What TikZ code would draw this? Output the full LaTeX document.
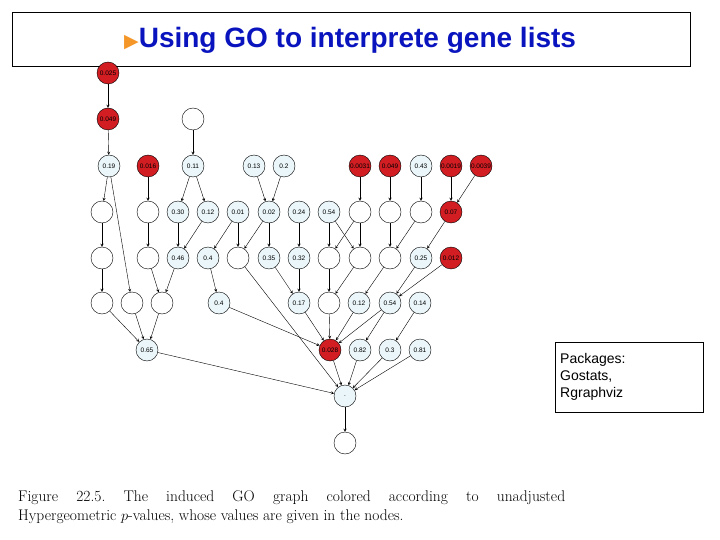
\documentclass[tikz,border=0pt]{standalone}
\usepackage{fontspec}
\setsansfont{Liberation Sans}
\newfontfamily\dejavu{DejaVu Sans}
\begin{document}
\begin{tikzpicture}[x=1pt,y=-1pt,
 gn/.style={circle,draw,thin,minimum size=22pt,inner sep=0pt,font=\sffamily\fontsize{6.5}{6.5}\selectfont,fill=white},
 rn/.style={gn,fill=gored},
 ln/.style={gn,fill=golight},
 ar/.style={->,>=stealth,thin},
 box/.style={draw,thin}]
\definecolor{gored}{RGB}{210,30,35}
\definecolor{golight}{RGB}{235,246,250}
\definecolor{tblue}{RGB}{10,20,190}
\definecolor{torange}{RGB}{245,150,40}
\useasboundingbox (0,0) rectangle (720,540);
\node[box,minimum width=678pt,minimum height=54pt,anchor=north west] (tb) at (12,12) {};
\node[anchor=west,inner sep=0pt,font=\sffamily\bfseries\fontsize{28}{30}\selectfont,text=tblue] (tt) at (124,40) {{\dejavu\color{torange}\fontsize{19}{19}\selectfont ▶}Using GO to interprete gene lists};
\node[box,anchor=north west,minimum width=148pt,minimum height=70pt,text width=138pt,align=left,font=\sffamily\fontsize{14}{17}\selectfont] (pk) at (555,342) {Packages:\\Gostats,\\Rgraphviz};
\node[anchor=north west,text width=547pt,align=justify,inner sep=0pt,font=\fontsize{15.5}{19}\selectfont] (cap) at (18,490) {\frenchspacing Figure 22.5. The induced GO graph colored according to unadjusted\linebreak Hypergeometric $p$-values, whose values are given in the nodes.};
% row0-1
\node[rn] (a0) at (108,73) {0.025};
\node[rn] (a1) at (108,119) {0.049};
\node[gn] (b1) at (193,119) {};
% row2
\node[ln] (c1) at (109,166) {0.19};
\node[rn] (c2) at (148,166) {0.016};
\node[ln] (c3) at (193,166) {0.11};
\node[ln] (c4) at (254,166) {0.13};
\node[ln] (c5) at (284,166) {0.2};
\node[rn] (c6) at (360,166) {0.0031};
\node[rn] (c7) at (390,166) {0.049};
\node[ln] (c8) at (421,166) {0.43};
\node[rn] (c9) at (451,166) {0.0019};
\node[rn] (c10) at (481,166) {0.0039};
% row3
\node[gn] (d1) at (102,212) {};
\node[gn] (d2) at (148,212) {};
\node[ln] (d3) at (178,212) {0.30};
\node[ln] (d4) at (208,212) {0.12};
\node[ln] (d5) at (238,212) {0.01};
\node[ln] (d6) at (269,212) {0.02};
\node[ln] (d7) at (299,212) {0.24};
\node[ln] (d8) at (329,212) {0.54};
\node[gn] (d9) at (360,212) {};
\node[gn] (d10) at (390,212) {};
\node[gn] (d11) at (421,212) {};
\node[rn] (d12) at (451,212) {0.07};
% row4
\node[gn] (e1) at (102,258) {};
\node[gn] (e2) at (148,258) {};
\node[ln] (e3) at (178,258) {0.46};
\node[ln] (e4) at (208,258) {0.4};
\node[gn] (e5) at (238,258) {};
\node[ln] (e6) at (269,258) {0.35};
\node[ln] (e7) at (299,258) {0.32};
\node[gn] (e8) at (329,258) {};
\node[gn] (e9) at (360,258) {};
\node[gn] (e10) at (390,258) {};
\node[ln] (e11) at (421,258) {0.25};
\node[rn] (e12) at (451,258) {0.012};
% row5
\node[gn] (f1) at (102,303) {};
\node[gn] (f2) at (132,303) {};
\node[gn] (f3) at (162,303) {};
\node[ln] (f4) at (219,303) {0.4};
\node[ln] (f5) at (299,303) {0.17};
\node[gn] (f6) at (329,303) {};
\node[ln] (f7) at (359,303) {0.12};
\node[ln] (f8) at (390,303) {0.54};
\node[ln] (f9) at (420,303) {0.14};
% row6
\node[ln] (g1) at (147,350) {0.65};
\node[rn] (g2) at (330,350) {0.028};
\node[ln] (g3) at (360,350) {0.82};
\node[ln] (g4) at (390,350) {0.3};
\node[ln] (g5) at (420,350) {0.81};
\node[ln] (h1) at (345,396) {.};
\node[gn] (h2) at (345,443) {};
\foreach \s/\t in {a0/a1,a1/c1,b1/c3,c1/d1,c1/f2,c2/d2,c3/d3,c3/d4,c4/d6,c5/d6,c6/d9,c7/d10,c8/d11,c9/d12,c10/d12,
 d1/e1,d2/e2,d3/e3,d4/e3,d5/e4,d5/e5,d6/e5,d6/e6,d7/e7,d8/e8,d8/e9,d9/e8,d9/e9,d10/e10,d11/e10,d12/e11,
 e1/f1,e2/f3,e3/f3,e4/f4,e5/h1,e6/f5,e7/f5,e8/f6,e9/f6,e10/f7,e11/f8,e12/f8,
 f1/g1,f2/g1,f3/g1,f4/g2,f5/g2,f6/g2,f7/g2,f8/g2,f8/g3,f9/g4,
 g1/h1,g2/h1,g3/h1,g4/h1,g5/h1,h1/h2}
 \draw[ar] (\s) -- (\t);
\end{tikzpicture}
\end{document}
